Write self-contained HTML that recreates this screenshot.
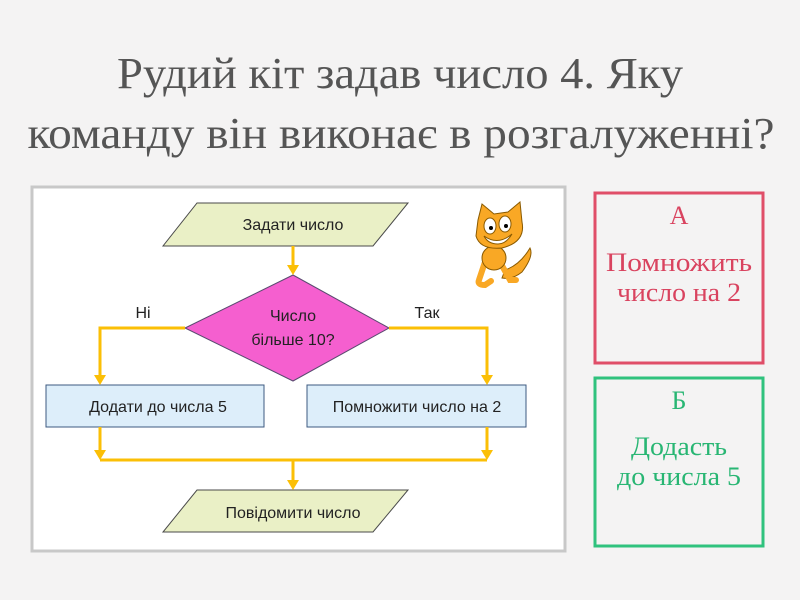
<!DOCTYPE html>
<html><head><meta charset="utf-8"><style>
html,body{margin:0;padding:0;background:#f4f3f3;}
svg{display:block}
</style></head><body>
<svg width="800" height="600" viewBox="0 0 800 600" xmlns="http://www.w3.org/2000/svg">
<rect width="800" height="600" fill="#f4f3f3"/>
<g font-family="Liberation Serif, serif" fill="#555" font-size="44" text-anchor="middle">
<text x="400" y="88" textLength="566" lengthAdjust="spacingAndGlyphs">Рудий кіт задав число 4. Яку</text>
<text x="401" y="148" textLength="747" lengthAdjust="spacingAndGlyphs">команду він виконає в розгалуженні?</text>
</g>
<rect x="32" y="187" width="533" height="364" fill="#fff" stroke="#c8c8c8" stroke-width="3"/>
<g font-family="Liberation Sans, sans-serif" font-size="16" fill="#222" text-anchor="middle">
<polygon points="197,203 408,203 373,246 163,246" fill="#eaf0c6" stroke="#4a4a4a" stroke-width="1"/>
<text x="293" y="230">Задати число</text>
<polygon points="293,275 389,328 293,381 185,328" fill="#f55fcf" stroke="#5a4a70" stroke-width="1"/>
<text x="293" y="321">Число</text>
<text x="293" y="345">більше 10?</text>
<rect x="46" y="385" width="218" height="42" fill="#ddeefa" stroke="#3d5a80" stroke-width="1"/>
<text x="158" y="412">Додати до числа 5</text>
<rect x="307" y="385" width="219" height="42" fill="#ddeefa" stroke="#3d5a80" stroke-width="1"/>
<text x="417" y="412">Помножити число на 2</text>
<polygon points="197,490 408,490 373,532 163,532" fill="#eaf0c6" stroke="#4a4a4a" stroke-width="1"/>
<text x="293" y="518">Повідомити число</text>
<text x="143" y="318">Ні</text>
<text x="427" y="318">Так</text>
</g>
<g stroke="#fbbf06" stroke-width="3" fill="none">
<path d="M293 246V268"/>
<path d="M185 328H100V378"/>
<path d="M389 328H487V378"/>
<path d="M100 427V454M487 427V454M100 460H487M293 460V484"/>
</g>
<g fill="#fbbf06">
<polygon points="287,265 299,265 293,275"/>
<polygon points="94,375 106,375 100,385"/>
<polygon points="481,375 493,375 487,385"/>
<polygon points="94,450 106,450 100,460"/>
<polygon points="481,450 493,450 487,460"/>
<polygon points="287,480 299,480 293,490"/>
</g>
<g stroke="#8a5a00" stroke-width="1">
<path d="M505 270 q15 -5 25 -22 q4 8 -8 24 q-10 8 -20 6z" fill="#f9a825"/>
<path d="M485 262 l-6 18 q-2 5 6 5 l6 -4 M500 262 l10 18 l6 0" fill="none" stroke="#f9a825" stroke-width="6" stroke-linecap="round"/>
<ellipse cx="494" cy="258" rx="12" ry="12" fill="#f9a825"/>
<path d="M478 220 l4 -16 l12 10 l14 -2 l12 -10 l2 20 q4 20 -20 26 q-22 2 -26 -12z" fill="#f9a825"/>
<ellipse cx="490" cy="226" rx="6" ry="8" fill="#fff"/>
<ellipse cx="505" cy="224" rx="6" ry="8" fill="#fff"/>
<path d="M484 236 q14 10 28 -2 q-6 10 -14 10 q-10 0 -14 -8z" fill="#fff"/>
</g>
<circle cx="491" cy="228" r="2" fill="#000"/><circle cx="506" cy="226" r="2" fill="#000"/>
<rect x="595" y="193" width="168" height="170" fill="none" stroke="#e04e68" stroke-width="3"/>
<rect x="595" y="378" width="168" height="168" fill="none" stroke="#2fc27d" stroke-width="3"/>
<g font-family="Liberation Serif, serif" font-size="26" text-anchor="middle">
<g fill="#d9435f">
<text x="679" y="224">А</text>
<text x="679" y="271" textLength="146" lengthAdjust="spacingAndGlyphs">Помножить</text>
<text x="679" y="301" textLength="124" lengthAdjust="spacingAndGlyphs">число на 2</text>
</g>
<g fill="#28b673">
<text x="679" y="409">Б</text>
<text x="679" y="455" textLength="96" lengthAdjust="spacingAndGlyphs">Додасть</text>
<text x="679" y="485" textLength="124" lengthAdjust="spacingAndGlyphs">до числа 5</text>
</g>
</g>
</svg>
</body></html>
